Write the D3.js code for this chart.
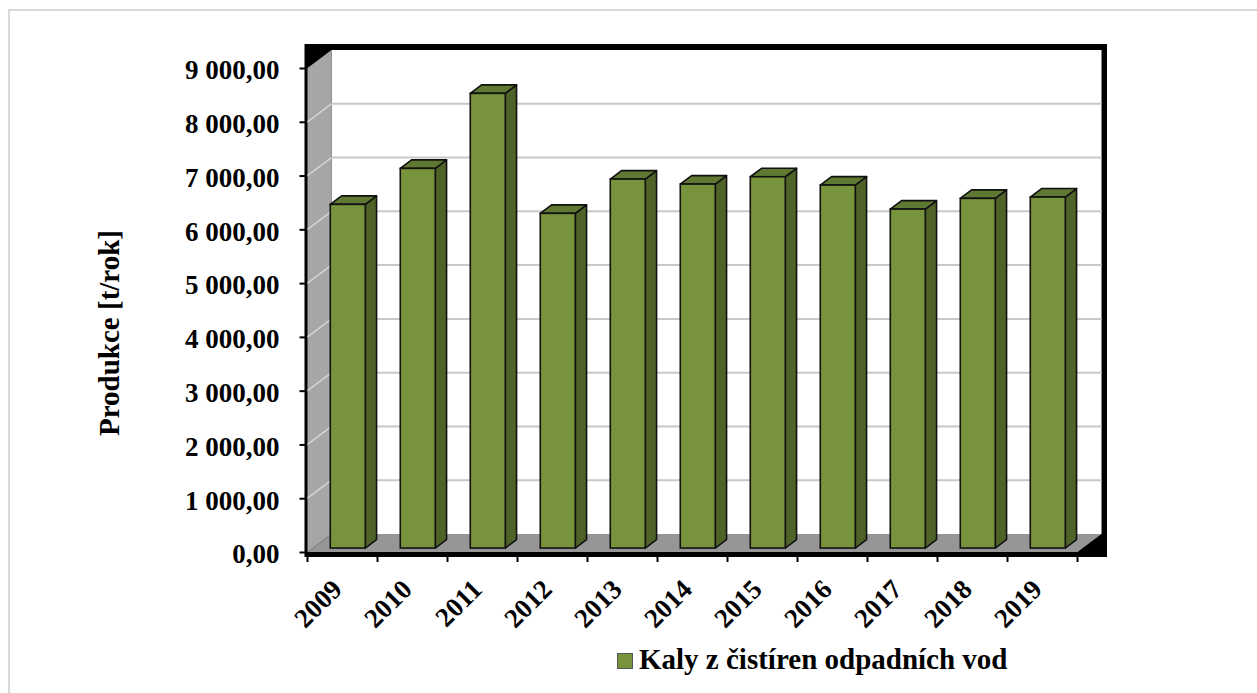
<!DOCTYPE html>
<html>
<head>
<meta charset="utf-8">
<script src="https://cdn.jsdelivr.net/npm/d3@7"></script>
<style>
html,body{margin:0;padding:0;background:#fff;}
svg{display:block;}
text{font-family:"Liberation Serif","Times New Roman",serif;font-weight:bold;fill:#000;}
</style>
</head>
<body>
<svg id="chart" width="1257" height="693"></svg>
<script>
// ---- data ----
const years = ["2009","2010","2011","2012","2013","2014","2015","2016","2017","2018","2019"];
const production = [6391, 7060, 8455, 6224, 6861, 6768, 6904, 6750, 6303, 6502, 6527];
const yTickValues = [0,1000,2000,3000,4000,5000,6000,7000,8000,9000];
const seriesName = "Kaly z čistíren odpadních vod";
const yTitle = "Produkce [t/rok]";

// ---- layout ----
const svg = d3.select("#chart");
const W = 1257, H = 693;
const depthX = 24, depthY = -18;          // full floor depth offset (front -> back)
const barFront = 0.22, barDepth = 0.47;   // bar position within depth (fractions)

const x = d3.scaleBand().domain(years).range([307.5, 1077.5]).paddingInner(0.5).paddingOuter(0.25);
const y = d3.scaleLinear().domain([0, 9000]).range([552, 68]);
const step = x.step();
const x0 = 307.5, x1 = 1077.5;

const fmtLocale = d3.formatLocale({decimal: ",", thousands: "\u00a0", grouping: [3], currency: ["", ""]});
const fmt = fmtLocale.format(",.2f");

// outer chart border
svg.append("rect").attr("x", 9).attr("y", 10).attr("width", W).attr("height", H)
  .attr("fill", "none").attr("stroke", "#d9d9d9").attr("stroke-width", 2);

// black frame (shadow-like border of the plot area)
svg.append("rect").attr("x", 304.5).attr("y", 44).attr("width", 1107 - 304.5).attr("height", 557 - 44)
  .attr("fill", "#000");

// back wall
const backTop = y(9000) + depthY, backBottom = y(0) + depthY;
svg.append("rect").attr("x", x0 + depthX).attr("y", backTop)
  .attr("width", x1 - x0).attr("height", backBottom - backTop).attr("fill", "#fff");

// side wall
svg.append("polygon").attr("points", [
  [x0, y(9000)], [x0 + depthX, y(9000) + depthY], [x0 + depthX, y(0) + depthY], [x0, y(0)]
].map(p => p.join(",")).join(" ")).attr("fill", "#a6a6a6");

// floor
svg.append("polygon").attr("points", [
  [x0, y(0)], [x0 + depthX, y(0) + depthY], [x1 + depthX, y(0) + depthY], [x1, y(0)]
].map(p => p.join(",")).join(" ")).attr("fill", "#969696");

// gridlines on back wall and side wall
const grid = yTickValues.filter(v => v > 0 && v < 9000);
svg.append("g").selectAll("line").data(grid).join("line")
  .attr("x1", x0 + depthX).attr("x2", x1 + depthX)
  .attr("y1", d => y(d) + depthY).attr("y2", d => y(d) + depthY)
  .attr("stroke", "#c8c8c8").attr("stroke-width", 2);
svg.append("g").selectAll("line").data(grid).join("line")
  .attr("x1", x0).attr("x2", x0 + depthX)
  .attr("y1", d => y(d)).attr("y2", d => y(d) + depthY)
  .attr("stroke", "#d4d4d4").attr("stroke-width", 1.5);

// bars
const fdx = depthX * barFront, fdy = depthY * barFront;
const ddx = depthX * barDepth, ddy = depthY * barDepth;
const bars = svg.append("g").selectAll("g").data(years.map((yr, i) => ({yr, v: production[i]}))).join("g");
const strokeW = 1.6;
bars.append("polygon") // side
  .attr("points", d => {
    const xr = x(d.yr) + x.bandwidth() + fdx, yt = y(d.v) + fdy, yb = y(0) + fdy;
    return [[xr, yt], [xr + ddx, yt + ddy], [xr + ddx, yb + ddy], [xr, yb]].map(p => p.join(",")).join(" ");
  })
  .attr("fill", "#4f6228").attr("stroke", "#111").attr("stroke-width", strokeW).attr("stroke-linejoin", "round");
bars.append("polygon") // top
  .attr("points", d => {
    const xl = x(d.yr) + fdx, xr = xl + x.bandwidth(), yt = y(d.v) + fdy;
    return [[xl, yt], [xl + ddx, yt + ddy], [xr + ddx, yt + ddy], [xr, yt]].map(p => p.join(",")).join(" ");
  })
  .attr("fill", "#5f7832").attr("stroke", "#111").attr("stroke-width", strokeW).attr("stroke-linejoin", "round");
bars.append("rect") // front
  .attr("x", d => x(d.yr) + fdx).attr("y", d => y(d.v) + fdy)
  .attr("width", x.bandwidth()).attr("height", d => y(0) - y(d.v))
  .attr("fill", "#77933c").attr("stroke", "#111").attr("stroke-width", strokeW);

// y axis
const yAxis = d3.axisLeft(y).tickValues(yTickValues).tickFormat(fmt).tickSize(7).tickPadding(20);
const gy = svg.append("g").attr("transform", `translate(${x0 - 1},0)`).call(yAxis);
gy.select(".domain").remove();
gy.selectAll(".tick line").attr("stroke", "#000").attr("stroke-width", 2);
gy.selectAll(".tick text").attr("font-size", 27).attr("dy", "0.4em")
  .style("font-family", "'Liberation Serif','Times New Roman',serif").style("font-weight", "bold");

// x axis ticks at category boundaries
const bounds = years.map(yr => x(yr) - x.paddingOuter() * step).concat([x1]);
svg.append("g").selectAll("line").data(bounds).join("line")
  .attr("x1", d => d).attr("x2", d => d).attr("y1", 556).attr("y2", 562)
  .attr("stroke", "#000").attr("stroke-width", 2);

// x labels
svg.append("g").selectAll("text").data(years).join("text")
  .attr("transform", d => `translate(${x(d) + x.bandwidth() / 2 + 1},591) rotate(-45)`)
  .attr("text-anchor", "end").attr("font-size", 27).text(d => d);

// y title
svg.append("text").attr("transform", `translate(119,333) rotate(-90)`)
  .attr("text-anchor", "middle").attr("font-size", 29).text(yTitle);

// legend
svg.append("rect").attr("x", 617.5).attr("y", 653.5).attr("width", 15).attr("height", 15)
  .attr("fill", "#77933c").attr("stroke", "#555").attr("stroke-width", 1);
svg.append("text").attr("x", 639).attr("y", 669).attr("font-size", 29).text(seriesName);
</script>
</body>
</html>
